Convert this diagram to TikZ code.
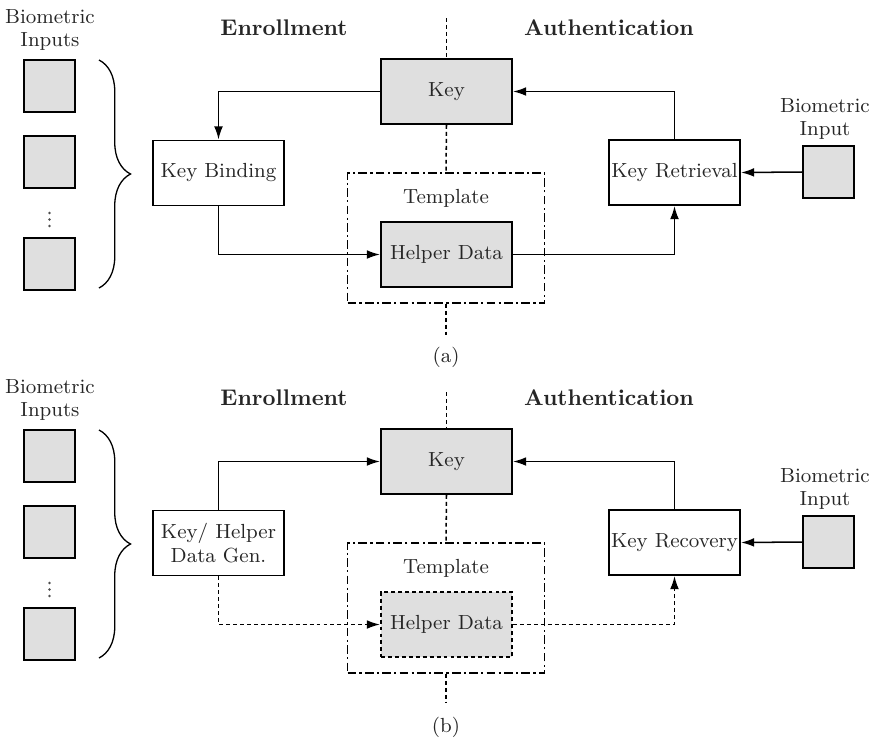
\documentclass[tikz,border=0pt]{standalone}
\usetikzlibrary{arrows.meta,decorations.pathreplacing}
\begin{document}
\begin{tikzpicture}[x=0.46pt,y=-0.46pt,
  every node/.style={font=\fontsize{9.4}{11}\selectfont, text=black!85},
  box/.style={draw, line width=0.9pt, inner sep=0pt, minimum width=60.3pt, minimum height=29.9pt, align=center},
  graybox/.style={box, fill=gray!25},
  inbox/.style={draw, line width=0.9pt, fill=gray!25, inner sep=0pt, minimum size=23.5pt},
  tplbox/.style={draw, line width=0.8pt, dash pattern=on 4pt off 1.5pt on 1pt off 1.5pt, minimum width=90.6pt, minimum height=59.8pt, inner sep=0pt},
  flow/.style={line width=0.7pt, -{Latex[length=6pt,width=4pt]}},
  dflow/.style={flow, dash pattern=on 1.8pt off 1.4pt},
  sep/.style={line width=0.7pt, dash pattern=on 1.8pt off 1.4pt},
  head/.style={font=\fontsize{10.4}{12}\selectfont\bfseries},
  lbl/.style={align=center},
  bracepath/.style={line width=0.6pt, decorate, decoration={brace, amplitude=14.5pt}},
  dot/.style={fill=black!70, draw=none},
]
\useasboundingbox (0,0) rectangle (871,744);

% ---------- (a) key binding ----------
\node[lbl] (inlabA) at (50,30) {Biometric\\Inputs};
\node[inbox] (inA1) at (49.5,86) {};
\node[inbox] (inA2) at (49.5,162) {};
\node[inbox] (inA3) at (49.5,264) {};
\foreach \yy in {213,219.5,226} \fill[dot] (49.5,\yy) circle[radius=0.65pt];
\coordinate (brA1) at (99,60);
\coordinate (brA2) at (99,288);
\draw[bracepath] (brA1) -- (brA2);

\node[head] (enrA) at (284,28) {Enrollment};
\node[head] (autA) at (609,28) {Authentication};

\node[graybox] (keyA) at (446.5,91.5) {Key};
\node[box] (kbA) at (218.5,173) {Key Binding};
\node[box] (krA) at (674.5,172.5) {Key Retrieval};
\node[tplbox] (tplA) at (446,238) {};
\node (tlA) at (446,198) {Template};
\node[graybox] (hdA) at (446.5,254.5) {Helper Data};
\node[lbl] (bilabA) at (825,119) {Biometric\\Input};
\node[inbox] (bioA) at (828.5,172) {};
\node (capA) at (446,357) {(a)};

\coordinate (sepA1) at (446.5,18);
\coordinate (sepA2) at (446,335);
\draw[sep] (sepA1) -- (keyA.north);
\draw[sep] (keyA.south) -- (tplA.north);
\draw[sep] (tplA.south) -- (sepA2);

\draw[flow] (keyA.west) -| (kbA.north);
\draw[flow] (kbA.south) |- (hdA.west);
\draw[flow] (hdA.east) -| (krA.south);
\draw[flow] (krA.north) |- (keyA.east);
\draw[flow] (bioA.west) -- (krA.east);

% ---------- (b) key generation ----------
\node[lbl] (inlabB) at (50,400) {Biometric\\Inputs};
\node[inbox] (inB1) at (49.5,456) {};
\node[inbox] (inB2) at (49.5,532) {};
\node[inbox] (inB3) at (49.5,634) {};
\foreach \yy in {583,589.5,596} \fill[dot] (49.5,\yy) circle[radius=0.65pt];
\coordinate (brB1) at (99,430);
\coordinate (brB2) at (99,658);
\draw[bracepath] (brB1) -- (brB2);

\node[head] (enrB) at (284,398) {Enrollment};
\node[head] (autB) at (609,398) {Authentication};

\node[graybox] (keyB) at (446.5,461.5) {Key};
\node[box] (khB) at (218.5,543) {Key/ Helper\\Data Gen.};
\node[box] (krB) at (674.5,542.5) {Key Recovery};
\node[tplbox] (tplB) at (446,608) {};
\node (tlB) at (446,568) {Template};
\node[graybox, dash pattern=on 1.8pt off 1.4pt] (hdB) at (446.5,624.5) {Helper Data};
\node[lbl] (bilabB) at (825,489) {Biometric\\Input};
\node[inbox] (bioB) at (828.5,542) {};
\node (capB) at (446,727) {(b)};

\coordinate (sepB1) at (446.5,392);
\coordinate (sepB2) at (446,703);
\draw[sep] (sepB1) -- (keyB.north);
\draw[sep] (keyB.south) -- (tplB.north);
\draw[sep] (tplB.south) -- (sepB2);

\draw[flow] (khB.north) |- (keyB.west);
\draw[flow] (krB.north) |- (keyB.east);
\draw[flow] (bioB.west) -- (krB.east);
\draw[dflow] (khB.south) |- (hdB.west);
\draw[dflow] (hdB.east) -| (krB.south);
\end{tikzpicture}
\end{document}
